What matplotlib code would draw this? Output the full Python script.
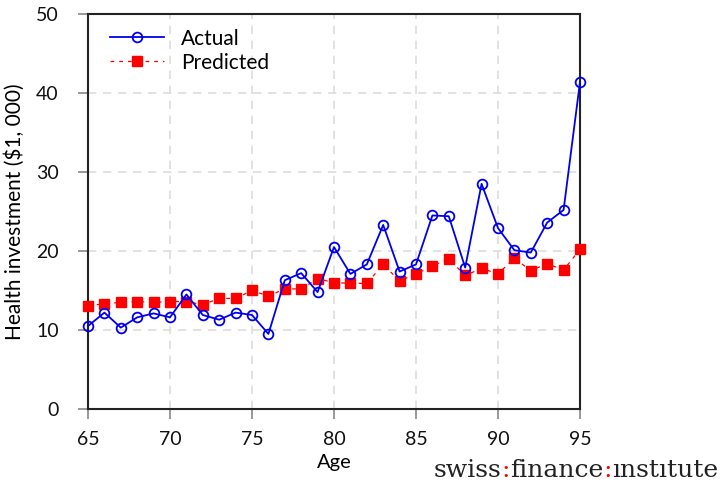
import numpy as np
import matplotlib
matplotlib.use('Agg')
import matplotlib.pyplot as plt

ages = list(range(65, 96))

actual = [10.5, 12.2, 10.3, 11.6, 12.1, 11.6, 14.5, 11.9, 11.3, 12.2,
          11.9, 9.5, 16.3, 17.2, 14.8, 20.5, 17.1, 18.3, 23.3, 17.4,
          18.3, 24.5, 24.4, 17.9, 28.5, 22.9, 20.1, 19.8, 23.6, 25.2,
          41.4]

predicted = [13.1, 13.3, 13.5, 13.6, 13.5, 13.6, 13.6, 13.2, 14.0, 14.0,
             15.0, 14.3, 15.2, 15.2, 16.5, 16.0, 15.9, 15.9, 18.3, 16.2,
             17.1, 18.1, 19.0, 16.9, 17.8, 17.1, 19.1, 17.5, 18.4, 17.6,
             20.2]

xticks = [65, 70, 75, 80, 85, 90, 95]
yticks = [0, 10, 20, 30, 40, 50]

plt.rcParams['font.family'] = ['Lato', 'DejaVu Sans']

fig = plt.figure(figsize=(7.22, 4.84), dpi=100)
ax = fig.add_axes([0.1219, 0.155, 0.6814, 0.816])

ax.plot(ages, actual, marker='o', markersize=7, markerfacecolor='none',
        markeredgewidth=1.3, linewidth=1.3, color='#0000ee', label='Actual',
        clip_on=False, zorder=4)
ax.plot(ages, predicted, marker='s', markersize=7, linestyle=(0, (3, 4)),
        linewidth=0.9, color='#ff0000', label='Predicted', clip_on=False,
        zorder=3)

ax.set_xlim(65, 95)
ax.set_ylim(0, 50)
ax.set_xticks(xticks)
ax.set_yticks(yticks)
ax.grid(True, linestyle=(0, (5, 4)), color='#dddddd', linewidth=1.2)
ax.set_axisbelow(True)

for s in ax.spines.values():
    s.set_linewidth(1.5)
    s.set_color('#222222')
ax.tick_params(direction='out', length=7, width=1.2, color='#888888',
               labelsize=14, labelcolor='#111111')
ax.tick_params(axis='x', pad=9)
ax.tick_params(axis='y', pad=14)

ax.set_xlabel('Age', fontsize=14.5, labelpad=4)
ax.set_ylabel('Health investment (\\$1, 000)', fontsize=15, labelpad=8)

leg = ax.legend(loc='upper left', frameon=False, fontsize=15,
                handlelength=2.6, handletextpad=0.8, borderaxespad=0.3,
                labelspacing=0.2, bbox_to_anchor=(0.015, 1.0))

# institute wordmark, bottom right
serif = ['DejaVu Serif', 'Liberation Serif']
parts = [('swiss', '#222222'), (':', 'red'), ('finance', '#222222'),
         (':', 'red'), ('ınstıtute', '#222222')]
x = 0.601
for txt, col in parts:
    t = fig.text(x, 0.004, txt, fontsize=18, color=col, family=serif,
                 ha='left', va='bottom')
    fig.canvas.draw()
    bb = t.get_window_extent()
    x += bb.width / fig.bbox.width

fig.savefig('out.png', dpi=100)
